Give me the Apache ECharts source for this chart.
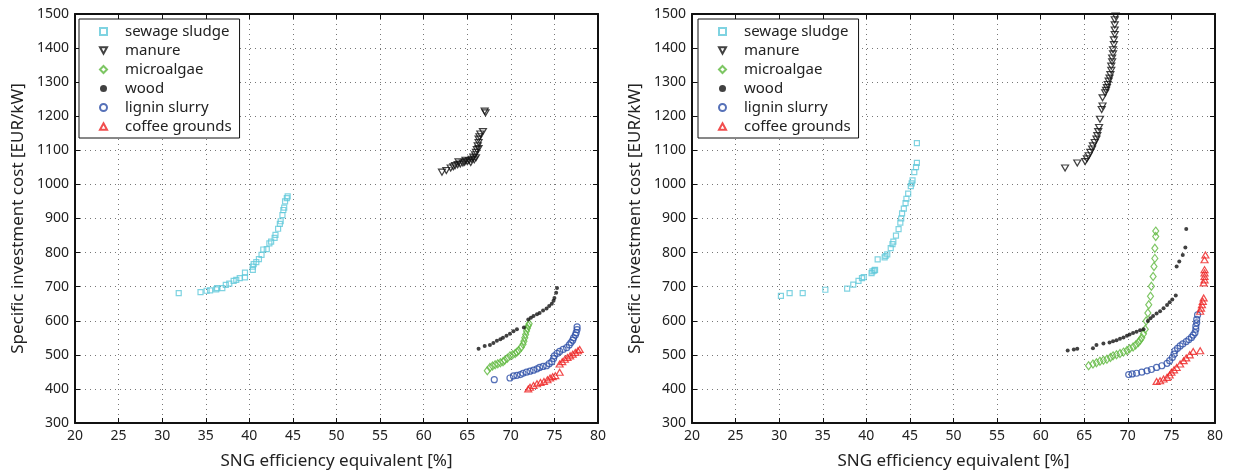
<!DOCTYPE html>
<html>
<head>
<meta charset="utf-8">
<script src="https://cdn.jsdelivr.net/npm/echarts@6/dist/echarts.min.js"></script>
<style>
  html, body { margin: 0; padding: 0; background: #fff; }
  #chart { width: 1238px; height: 475px; }
</style>
</head>
<body>
<div id="chart"></div>
<script>
// series names, shared by both panels
const seriesNames = ["sewage sludge", "manure", "microalgae", "wood", "lignin slurry", "coffee grounds"];
const xTicks = { min: 20, max: 80, step: 5 };
const yTicks = { min: 300, max: 1500, step: 100 };

// left panel, [efficiency %, cost EUR/kW]
const leftSewage = [[31.9,681],[34.4,684],[35.1,688],[35.5,689],[36.2,692],[36.3,696],[36.9,696],[37.3,705],[37.7,709],
  [38.2,717],[38.5,720],[38.9,725],[39.5,727],[39.5,741],[40.4,749],[40.4,759],[40.5,766],[40.8,772],[41.1,781],
  [41.4,793],[41.6,809],[42.0,810],[42.3,827],[42.5,832],[42.9,843],[43.0,852],[43.3,870],[43.5,884],[43.6,892],
  [43.8,910],[43.9,925],[44.0,932],[44.1,950],[44.3,960],[44.4,965]];
const leftManure = [[62.1,1036],[62.6,1041],[63.1,1048],[63.4,1052],[63.6,1055],[63.9,1058],[64.2,1060],[64.5,1063],
  [64.7,1065],[65.0,1067],[65.2,1070],[65.5,1074],[65.7,1080],[65.9,1087],[66.0,1094],[66.1,1102],[66.2,1113],
  [66.3,1123],[66.3,1133],[66.4,1140],[66.5,1148],[66.8,1155],[67.0,1215],[67.1,1210],[64.0,1066],[64.8,1071],
  [65.4,1064],[65.8,1072],[66.0,1078],[66.3,1105]];
const leftAlgae = [[67.3,453],[67.6,463],[67.9,467],[68.2,471],[68.5,474],[68.8,477],[69.1,480],[69.3,484],[69.6,490],
  [69.9,497],[70.2,500],[70.5,504],[70.7,508],[70.9,513],[71.2,522],[71.4,531],[71.5,540],[71.6,550],[71.7,560],
  [71.8,570],[71.9,578],[72.0,585],[72.1,591]];
const leftWood = [[66.3,518],[67.0,526],[67.6,529],[68.0,535],[68.4,541],[68.8,546],[69.1,550],[69.5,556],[69.9,562],
  [70.3,569],[70.7,575],[71.5,580],[72.0,604],[72.3,609],[72.6,614],[73.0,619],[73.3,623],[73.7,630],[74.1,636],
  [74.4,643],[74.7,650],[74.9,659],[75.0,667],[75.2,682],[75.3,696]];
const leftLignin = [[68.1,427],[69.9,432],[70.3,438],[70.7,440],[71.1,442],[71.4,446],[71.8,449],[72.2,452],[72.6,455],
  [73.0,459],[73.3,463],[73.7,466],[74.1,468],[74.4,474],[74.7,480],[74.9,489],[75.0,497],[75.3,504],[75.6,510],
  [76.0,516],[76.4,521],[76.7,529],[76.9,536],[77.1,543],[77.2,550],[77.4,558],[77.5,565],[77.6,574],[77.6,582]];
const leftCoffee = [[72.0,400],[72.2,405],[72.6,410],[73.0,415],[73.4,419],[73.8,422],[74.2,427],[74.5,432],[74.8,436],
  [75.1,439],[75.6,449],[75.6,473],[75.9,480],[76.2,487],[76.5,492],[76.8,497],[77.1,502],[77.4,507],[77.7,512],[77.9,516]];

// right panel
const rightSewage = [[30.2,673],[31.2,681],[32.7,681],[35.3,691],[37.8,694],[38.5,706],[39.1,717],[39.5,725],[39.7,728],
  [40.6,740],[41.0,749],[41.3,780],[42.1,786],[42.4,795],[42.8,813],[43.1,832],[43.4,850],[43.7,869],[43.9,888],
  [44.1,915],[44.3,929],[44.6,958],[44.8,973],[45.1,995],[45.3,1012],[45.5,1036],[45.7,1051],[45.8,1063],[45.8,1121],
  [40.7,745],[40.9,747],[42.2,790],[43.0,825],[44.0,900],[44.5,945],[45.2,1003]];
const rightManure = [[62.8,1048],[64.2,1063],[65.1,1067],[65.5,1084],[65.9,1104],[66.2,1123],[66.5,1143],[66.7,1167],
  [66.8,1191],[67.0,1220],[67.1,1230],[67.1,1254],[67.4,1269],[67.6,1284],[67.8,1303],[68.0,1322],[68.1,1347],
  [68.2,1371],[68.3,1395],[68.4,1424],[68.5,1453],[68.5,1483],[68.6,1494],[65.3,1075],[65.7,1094],[66.0,1113],
  [66.4,1133],[66.6,1155],[67.5,1276],[67.7,1293],[67.9,1312],[68.1,1335],[68.2,1360],[68.3,1383],[68.4,1410],
  [68.5,1440],[68.5,1468]];
const rightAlgae = [[65.5,468],[66.0,473],[66.4,477],[66.8,481],[67.2,484],[67.6,487],[68.0,492],[68.3,497],[68.7,500],
  [69.1,504],[69.5,508],[69.9,513],[70.2,518],[70.6,523],[70.9,529],[71.2,536],[71.4,543],[71.6,550],[71.8,562],
  [72.0,575],[72.1,599],[72.3,623],[72.4,647],[72.6,672],[72.7,701],[72.9,730],[73.0,759],[73.1,783],[73.1,813],
  [73.2,847],[73.2,863]];
const rightWood = [[63.1,513],[63.8,516],[64.2,518],[66.0,519],[66.4,529],[67.2,533],[67.9,536],[68.3,540],[68.7,543],
  [69.1,547],[69.5,551],[69.9,556],[70.2,560],[70.6,564],[71.0,568],[71.4,572],[71.8,575],[72.3,599],[72.6,607],
  [72.9,614],[73.3,621],[73.7,628],[74.1,637],[74.5,646],[74.8,654],[75.1,662],[75.5,674],[75.6,759],[75.9,774],
  [76.3,793],[76.6,815],[76.7,869]];
const rightLignin = [[70.1,442],[70.5,444],[71.0,446],[71.6,449],[72.2,453],[72.7,457],[73.3,463],[73.9,468],[74.5,475],
  [74.8,483],[75.1,492],[75.3,502],[75.4,512],[75.7,519],[76.0,526],[76.3,532],[76.7,539],[77.0,545],[77.3,551],
  [77.5,558],[77.7,565],[77.8,575],[77.8,584],[77.9,594],[77.9,604],[78.0,617]];
const rightCoffee = [[73.3,422],[73.7,424],[74.1,429],[74.5,434],[74.8,441],[75.0,449],[75.3,456],[75.6,463],[76.0,473],
  [76.4,483],[76.7,491],[77.1,500],[77.5,510],[78.3,512],[78.3,628],[78.4,637],[78.5,647],[78.6,657],[78.7,667],
  [78.7,711],[78.8,720],[78.8,730],[78.8,740],[78.8,750],[78.8,779],[78.9,793]];

const leftData = [leftSewage, leftManure, leftAlgae, leftWood, leftLignin, leftCoffee];
const rightData = [rightSewage, rightManure, rightAlgae, rightWood, rightLignin, rightCoffee];

// marker looks, matlab-ish
const downTri = "path://M0,0L10,0L5,9Z";
const upTri = "path://M5,0L10,9L0,9Z";
const looks = [
  { symbol: "rect", size: 5, color: "#5fc8da", hollow: true },
  { symbol: downTri, size: [7, 6], color: "#111", hollow: true },
  { symbol: "diamond", size: [6, 8], color: "#5cb83c", hollow: true },
  { symbol: "circle", size: 4, color: "#111", hollow: false },
  { symbol: "circle", size: 6, color: "#2c4ea6", hollow: true },
  { symbol: upTri, size: [7, 6], color: "#ee2020", hollow: true }
];

const font = "Noto Sans";
const grids = [
  { left: 75, top: 14, width: 523, height: 412 },
  { left: 692, top: 14, width: 523, height: 412 }
];

function xAxisFor(i, pos) {
  const main = pos === "bottom";
  return {
    type: "value", gridIndex: i, position: pos,
    min: xTicks.min, max: xTicks.max, interval: xTicks.step,
    name: main ? "SNG efficiency equivalent [%]" : "",
    nameLocation: "middle", nameGap: 30,
    nameTextStyle: { fontFamily: font, fontSize: 17, color: "#222" },
    axisLine: { show: true, onZero: false, lineStyle: { color: "#111", width: 2 } },
    axisTick: { show: true, inside: true, length: 5, lineStyle: { color: "#111" } },
    axisLabel: { show: main, fontFamily: font, fontSize: 14, color: "#222", margin: 6 },
    splitLine: { show: main, lineStyle: { color: "#777", type: [1, 4], width: 1 } }
  };
}
function yAxisFor(i, pos) {
  const main = pos === "left";
  return {
    type: "value", gridIndex: i, position: pos,
    min: yTicks.min, max: yTicks.max, interval: yTicks.step,
    name: main ? "Specific investment cost [EUR/kW]" : "",
    nameLocation: "middle", nameGap: 48, nameRotate: 90,
    nameTextStyle: { fontFamily: font, fontSize: 17, color: "#222" },
    axisLine: { show: true, onZero: false, lineStyle: { color: "#111", width: 2 } },
    axisTick: { show: true, inside: true, length: 5, lineStyle: { color: "#111" } },
    axisLabel: { show: main, fontFamily: font, fontSize: 14, color: "#222", margin: 6,
      formatter: (v) => String(v) },
    splitLine: { show: main, lineStyle: { color: "#777", type: [1, 4], width: 1 } }
  };
}

const xAxes = [xAxisFor(0, "bottom"), xAxisFor(1, "bottom"), xAxisFor(0, "top"), xAxisFor(1, "top")];
const yAxes = [yAxisFor(0, "left"), yAxisFor(1, "left"), yAxisFor(0, "right"), yAxisFor(1, "right")];

const series = [];
[leftData, rightData].forEach((panel, p) => {
  panel.forEach((pts, k) => {
    const lk = looks[k];
    series.push({
      name: seriesNames[k],
      type: "scatter",
      xAxisIndex: p, yAxisIndex: p,
      data: pts,
      symbol: lk.symbol,
      symbolSize: lk.size,
      itemStyle: lk.hollow
        ? { color: "rgba(255,255,255,0)", borderColor: lk.color, borderWidth: 1.2 }
        : { color: lk.color },
      emphasis: { disabled: true },
      silent: true
    });
  });
});

const legendFor = (left) => ({
  data: seriesNames,
  orient: "vertical",
  left: left, top: 19,
  padding: [5, 8, 4, 20],
  itemGap: 4,
  itemWidth: 7, itemHeight: 7,
  backgroundColor: "#fff",
  borderColor: "#111", borderWidth: 1,
  borderRadius: 0,
  textStyle: { fontFamily: font, fontSize: 15, color: "#222", padding: [0, 0, 0, 13] },
  selectedMode: false
});

const chart = echarts.init(document.getElementById("chart"));
chart.setOption({
  backgroundColor: "#fff",
  animation: false,
  grid: grids,
  xAxis: xAxes,
  yAxis: yAxes,
  legend: [legendFor(79), legendFor(698)],
  series: series
});
</script>
</body>
</html>
